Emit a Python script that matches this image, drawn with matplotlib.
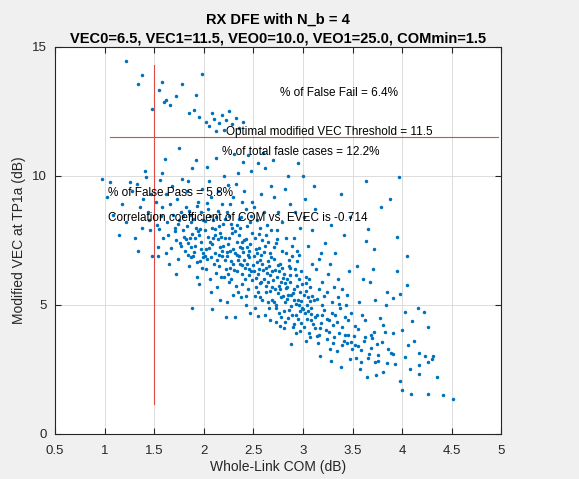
import matplotlib
matplotlib.use("Agg")
import matplotlib.pyplot as plt

plt.rcParams['font.family'] = ['Liberation Sans', 'DejaVu Sans']

# COM (dB) and modified VEC (dB), grouped by COM band
com = [
    0.97, 1.05, 1.08, 1.02,
    1.26, 1.18, 1.22, 1.15, 1.28, 1.31,
    1.33, 1.36, 1.38, 1.34, 1.39,
    1.41, 1.42, 1.44, 1.46, 1.47, 1.48, 1.45,
    1.52, 1.53, 1.54, 1.54, 1.55, 1.56, 1.57, 1.58, 1.59, 1.58,
    1.61, 1.62, 1.63, 1.64, 1.65, 1.66, 1.67, 1.68, 1.69, 1.62,
    1.71, 1.72, 1.73, 1.74, 1.75, 1.76, 1.77, 1.78, 1.79, 1.72, 1.75,
    1.81, 1.82, 1.83, 1.84, 1.85, 1.86, 1.87, 1.88, 1.89, 1.84, 1.86, 1.88,
    1.91, 1.92, 1.93, 1.94, 1.95, 1.96, 1.97, 1.98, 1.99, 1.92, 1.95, 1.97, 1.99,
    2.01, 2.02, 2.03, 2.04, 2.05, 2.06, 2.07, 2.08, 2.09, 2.01, 2.03, 2.05, 2.07, 2.08, 2.10,
    2.11, 2.12, 2.13, 2.14, 2.15, 2.16, 2.17, 2.18, 2.19, 2.12, 2.14, 2.16, 2.18, 2.19, 2.20, 2.20,
    2.21, 2.22, 2.23, 2.24, 2.25, 2.26, 2.27, 2.28, 2.29, 2.22, 2.24, 2.26, 2.27, 2.28, 2.29, 2.23,
    2.31, 2.32, 2.33, 2.34, 2.34, 2.35, 2.36, 2.37, 2.38, 2.39, 2.31, 2.33, 2.35, 2.37, 2.38, 2.30, 2.39,
    2.41, 2.42, 2.43, 2.44, 2.45, 2.45, 2.46, 2.47, 2.48, 2.48, 2.49, 2.41, 2.43, 2.44, 2.46, 2.47, 2.49, 2.40,
    2.51, 2.52, 2.53, 2.54, 2.55, 2.55, 2.56, 2.57, 2.58, 2.59, 2.51, 2.52, 2.54, 2.56, 2.57, 2.58, 2.59, 2.55,
    2.60, 2.61, 2.62, 2.62, 2.63, 2.64, 2.65, 2.66, 2.67, 2.68, 2.69, 2.61, 2.63, 2.65, 2.66, 2.67, 2.68, 2.69,
    2.70, 2.71, 2.72, 2.73, 2.74, 2.75, 2.76, 2.77, 2.78, 2.79, 2.71, 2.73, 2.74, 2.76, 2.77, 2.78, 2.79,
    2.81, 2.82, 2.83, 2.84, 2.85, 2.85, 2.86, 2.87, 2.88, 2.89, 2.81, 2.83, 2.84, 2.86, 2.87, 2.88, 2.89, 2.82,
    2.91, 2.92, 2.93, 2.94, 2.95, 2.95, 2.96, 2.97, 2.98, 2.99, 2.91, 2.93, 2.94, 2.96, 2.97, 2.98, 2.92,
    3.00, 3.01, 3.02, 3.03, 3.04, 3.05, 3.06, 3.07, 3.08, 3.09, 3.01, 3.03, 3.05, 3.06, 3.08, 3.09, 3.02,
    3.11, 3.12, 3.13, 3.14, 3.15, 3.16, 3.17, 3.17, 3.18, 3.19, 3.12, 3.14, 3.16, 3.18, 3.19, 3.11,
    3.21, 3.23, 3.24, 3.25, 3.26, 3.27, 3.28, 3.29, 3.30, 3.30, 3.22, 3.24, 3.27, 3.28,
    3.31, 3.32, 3.34, 3.35, 3.36, 3.37, 3.38, 3.39, 3.32, 3.35, 3.38, 3.39,
    3.41, 3.42, 3.43, 3.44, 3.45, 3.46, 3.47, 3.48, 3.49, 3.41, 3.44, 3.47,
    3.52, 3.53, 3.55, 3.56, 3.57, 3.58, 3.59, 3.54, 3.51, 3.60, 3.61,
    3.64, 3.66, 3.68, 3.69, 3.70, 3.62, 3.65, 3.67, 3.63,
    3.72, 3.73, 3.73, 3.76, 3.74, 3.78, 3.75, 3.71, 3.79,
    3.81, 3.83, 3.84, 3.85, 3.81, 3.86, 3.88, 3.89,
    3.91, 3.91, 3.91, 3.95, 3.95, 3.98, 3.98, 3.97, 3.93,
    4.00, 4.00, 4.03, 4.03, 4.05, 4.05, 4.06, 4.09, 4.08,
    4.10, 4.16, 4.17, 4.17, 4.17, 4.12,
    4.22, 4.23, 4.26, 4.26, 4.26, 4.31, 4.41, 4.51, 4.35, 4.30,
    # denser core
    2.02, 2.04, 2.07, 2.08, 2.11, 2.12, 2.15, 2.16, 2.17, 2.21, 2.23, 2.24, 2.26, 2.29,
    2.30, 2.33, 2.34, 2.36, 2.39, 2.40, 2.42, 2.45, 2.46, 2.47, 2.50, 2.53, 2.54, 2.57,
    2.58, 2.60, 2.63, 2.64, 2.67, 2.68, 2.70, 2.72, 2.75, 2.76, 2.79, 2.80, 2.83, 2.84,
    2.87, 2.88, 2.90, 2.93, 2.94, 2.97, 2.98, 3.00, 3.03, 3.04, 3.07, 3.08, 3.10,
    1.88, 1.90, 1.93, 1.94, 1.97, 1.98, 1.80, 1.83, 1.84, 1.87,
    2.35, 2.44, 2.56, 2.65, 2.74, 2.86, 2.96, 2.25, 2.14, 2.06,
    2.62, 2.73, 2.82, 2.91, 2.52, 2.43, 2.32, 2.71, 2.81, 2.90,
    1.71, 1.74, 1.77, 1.79, 1.82, 1.85, 1.87, 1.89, 1.91, 1.93, 1.96, 1.99,
    2.01, 2.03, 2.06, 2.09, 2.11, 2.13, 2.15, 2.18, 2.21, 2.23, 2.25, 2.27, 2.29, 2.31,
    2.33, 2.36, 2.38, 2.41, 2.43, 2.46, 2.48, 2.49,
    2.51, 2.53, 2.55, 2.57, 2.59, 2.61, 2.63, 2.65, 2.67, 2.69, 2.71, 2.73, 2.75, 2.77,
    2.78, 2.80, 2.82, 2.85, 2.87, 2.89, 2.91, 2.93, 2.95, 2.97, 2.99,
    3.01, 3.03, 3.05, 3.07, 3.09, 3.12, 3.14, 3.16, 3.19, 3.21, 3.24, 3.26, 3.29, 3.31,
    3.34, 3.36, 3.39, 3.42, 3.45, 3.48,
    3.52, 3.55, 3.58, 3.62, 3.66, 3.69, 3.72, 3.76, 3.80, 3.85,
    # upper group
    1.22, 1.38, 1.34, 1.58, 1.55, 1.78, 1.98, 1.72, 1.92, 1.62, 1.66, 1.85, 1.48, 1.60,
    1.95, 2.02, 2.08, 2.10, 2.15, 2.18, 2.22, 2.25, 2.28, 2.32, 2.05, 2.35, 2.40, 2.12, 1.90, 2.20,
]

vec = [
    9.90, 9.75, 8.50, 9.20,
    9.75, 8.90, 8.20, 7.70, 9.40, 7.60,
    9.70, 8.80, 8.00, 7.10, 9.10,
    10.20, 9.95, 8.60, 7.90, 9.30, 6.90, 8.30,
    9.00, 8.10, 7.25, 6.90, 7.95, 9.85, 8.45, 10.10, 7.60, 8.80,
    10.65, 9.30, 8.20, 7.70, 6.60, 8.90, 7.20, 9.60, 8.50, 7.00,
    8.00, 7.50, 9.10, 6.80, 11.10, 7.40, 8.60, 9.90, 7.90, 6.20, 8.30,
    7.10, 8.80, 9.40, 7.40, 6.50, 7.60, 8.20, 10.30, 6.90, 9.80, 8.50, 4.90,
    7.30, 8.00, 6.10, 9.00, 7.70, 6.70, 8.60, 9.50, 7.00, 10.60, 5.80, 7.45, 8.30,
    7.90, 6.40, 10.35, 8.70, 7.20, 6.00, 9.20, 4.85, 7.60, 8.25, 6.80, 9.80, 5.50, 8.00, 6.60,
    7.00, 8.40, 5.70, 9.40, 6.50, 7.80, 6.10, 8.90, 7.30, 10.70, 7.55, 5.20, 6.90, 8.15, 10.00, 6.10,
    7.60, 6.40, 8.60, 9.65, 5.90, 7.10, 6.70, 8.00, 5.40, 4.55, 7.35, 8.90, 6.00, 7.80, 9.20, 5.10,
    7.00, 9.70, 6.30, 10.10, 5.50, 7.70, 6.60, 8.40, 5.80, 7.20, 4.55, 8.10, 6.90, 5.30, 9.00, 10.85, 6.20,
    7.50, 6.00, 8.70, 6.60, 10.80, 5.60, 7.10, 8.20, 10.20, 6.30, 7.80, 9.40, 5.00, 7.25, 6.85, 4.70, 9.00, 10.55,
    6.90, 7.60, 5.70, 8.30, 10.50, 6.20, 7.20, 5.30, 9.30, 6.60, 8.80, 4.90, 7.00, 6.40, 8.00, 5.90, 7.50, 4.57,
    10.90, 6.00, 10.30, 7.30, 5.50, 8.10, 6.70, 4.90, 7.00, 9.60, 6.30, 8.60, 7.70, 5.90, 6.50, 4.40, 7.90, 5.20,
    10.60, 6.80, 5.60, 7.40, 6.10, 8.60, 4.70, 6.60, 5.30, 7.10, 9.20, 5.00, 7.90, 6.30, 4.20, 5.90, 8.20,
    6.20, 5.10, 7.00, 5.70, 10.00, 4.50, 6.50, 8.90, 5.40, 6.90, 4.10, 7.60, 6.00, 4.80, 5.90, 3.50, 7.30, 9.50,
    5.60, 6.40, 4.60, 7.10, 10.50, 5.20, 6.00, 8.00, 4.30, 5.80, 7.60, 3.90, 6.70, 5.00, 4.00, 6.30, 8.60,
    10.00, 5.40, 4.70, 6.10, 5.00, 7.30, 3.90, 5.70, 4.40, 6.60, 8.40, 3.60, 5.30, 6.00, 4.90, 7.90, 9.10,
    5.20, 4.09, 6.40, 4.60, 3.53, 5.60, 4.09, 3.03, 7.00, 5.00, 8.70, 3.80, 6.80, 4.30, 5.90, 9.60,
    4.80, 4.03, 5.50, 6.20, 4.40, 3.30, 2.84, 5.10, 4.21, 3.53, 7.40, 3.70, 6.60, 8.10,
    5.70, 4.60, 3.20, 6.00, 3.90, 4.90, 2.60, 4.15, 7.00, 5.30, 9.30, 5.60,
    3.60, 3.84, 5.00, 3.53, 4.40, 6.30, 2.90, 4.70, 3.30, 7.70, 5.40, 8.40,
    4.20, 2.96, 3.40, 5.10, 2.50, 2.78, 4.60, 6.50, 3.80, 5.99, 3.59,
    7.46, 7.96, 5.90, 3.84, 3.71, 4.40, 2.20, 3.10, 9.80,
    7.18, 5.21, 2.78, 2.81, 2.30, 4.50, 3.50, 6.40, 8.80,
    4.21, 3.96, 5.00, 5.50, 2.40, 3.30, 9.10, 3.15,
    5.28, 3.90, 3.09, 7.65, 6.31, 5.43, 2.05, 9.96, 2.70,
    4.03, 1.69, 4.74, 3.00, 6.88, 5.78, 3.46, 1.56, 2.50,
    4.38, 4.88, 3.13, 2.68, 2.34, 3.60,
    4.74, 3.03, 4.15, 2.78, 1.56, 3.03, 1.50, 1.36, 2.20, 2.90,
    # denser core
    7.15, 7.65, 6.85, 7.35, 7.95, 6.25, 6.95, 7.25, 7.65, 6.75, 7.05, 6.20, 6.45, 7.15,
    6.35, 7.45, 6.75, 7.25, 6.55, 7.05, 6.45, 6.95, 6.15, 7.35, 6.55, 6.05, 6.65, 5.85,
    6.95, 6.35, 5.75, 6.25, 5.55, 6.85, 5.95, 6.35, 5.45, 5.75, 6.45, 5.35, 5.65, 5.25,
    6.15, 4.95, 5.45, 5.05, 5.75, 4.75, 5.15, 4.85, 5.55, 4.45, 5.15, 4.65, 4.25,
    7.75, 7.05, 6.65, 7.85, 7.15, 6.45, 7.65, 8.05, 6.95, 7.25,
    8.35, 8.05, 7.75, 7.45, 7.55, 6.75, 6.95, 8.45, 8.65, 8.45,
    4.60, 4.35, 4.35, 4.25, 5.35, 5.35, 5.75, 5.10, 4.75, 4.15,
    7.85, 8.15, 7.30, 8.45, 7.55, 8.65, 6.85, 8.35, 7.60, 8.85, 7.95, 6.85,
    6.90, 8.95, 7.45, 8.30, 7.70, 6.75, 8.05, 7.10, 8.35, 6.90, 7.60, 8.15, 6.60, 7.85,
    6.95, 8.00, 7.45, 6.75, 7.55, 6.40, 8.45, 5.95,
    6.30, 7.15, 5.50, 6.75, 5.20, 7.05, 6.45, 5.10, 6.15, 5.70, 7.25, 4.90, 6.55, 5.60,
    4.55, 6.05, 5.85, 5.40, 6.45, 4.60, 5.20, 6.15, 4.45, 5.50, 4.90,
    4.15, 5.85, 4.75, 3.75, 5.35, 4.55, 5.25, 3.85, 4.60, 5.35, 4.45, 3.95, 4.70, 3.75,
    4.35, 5.05, 3.45, 4.55, 3.85, 3.55,
    3.45, 4.05, 3.25, 3.75, 2.95, 3.35, 3.95, 3.05, 3.55, 2.75,
    # upper group
    14.45, 13.90, 13.55, 13.65, 13.35, 13.55, 13.95, 13.10, 13.15, 12.95, 12.75, 12.45, 12.60, 12.85,
    12.30, 12.10, 12.45, 12.20, 12.05, 12.35, 12.15, 12.50, 12.00, 12.25, 11.95, 11.85, 12.10, 11.75, 12.55, 11.80,
]

com_threshold = 1.5
vec_threshold = 11.5
title_lines = ["RX DFE with N_b = 4",
               "VEC0=6.5, VEC1=11.5, VEO0=10.0, VEO1=25.0, COMmin=1.5"]
notes = ["% of False Fail = 6.4%",
         "Optimal modified VEC Threshold = 11.5",
         "% of total fasle cases = 12.2%",
         "% of False Pass = 5.8%",
         "Correlation coefficient of COM vs. EVEC is -0.714"]

fig = plt.figure(figsize=(5.79, 4.79), dpi=100, facecolor='#f0f0f0')
ax = fig.add_axes([0.095, 0.094, 0.771, 0.808])

ax.plot(com, vec, '.', color='#0072BD', markersize=3.0)
ax.plot([com_threshold, com_threshold], [1.15, 14.3], color='#e04a45', linewidth=0.8)
ax.plot([1.05, 4.97], [vec_threshold, vec_threshold], color='#e04a45', linewidth=0.8)

ax.text(2.77, 13.2, notes[0], fontsize=8.5, va='center')
ax.text(2.22, 11.72, notes[1], fontsize=8.5, va='center')
ax.text(2.18, 10.93, notes[2], fontsize=8.5, va='center')
ax.text(1.03, 9.34, notes[3], fontsize=8.5, va='center')
ax.text(1.03, 8.37, notes[4], fontsize=8.5, va='center')

ax.set_xlim(0.5, 5)
ax.set_ylim(0, 15)
ax.set_xticks([0.5, 1, 1.5, 2, 2.5, 3, 3.5, 4, 4.5, 5])
ax.set_xticklabels(['0.5', '1', '1.5', '2', '2.5', '3', '3.5', '4', '4.5', '5'])
ax.set_yticks([0, 5, 10, 15])
ax.tick_params(direction='in', top=True, right=True, labelsize=9.5, length=4,
               color='#262626', labelcolor='#262626')
ax.tick_params(axis='x', pad=8)
ax.tick_params(axis='y', pad=6)
ax.grid(True, color='#dcdcdc', linewidth=0.7)
ax.set_axisbelow(True)
for s in ax.spines.values():
    s.set_color('#262626')
    s.set_linewidth(0.8)

ax.set_xlabel('Whole-Link COM (dB)', fontsize=10, color='#262626', labelpad=2)
ax.set_ylabel('Modified VEC at TP1a (dB)', fontsize=10, color='#262626', labelpad=4)
ax.set_title(title_lines[0] + '\n' + title_lines[1], fontsize=10.5, fontweight='bold',
             linespacing=1.45, pad=3)

fig.savefig('out.png', dpi=100, facecolor=fig.get_facecolor())
